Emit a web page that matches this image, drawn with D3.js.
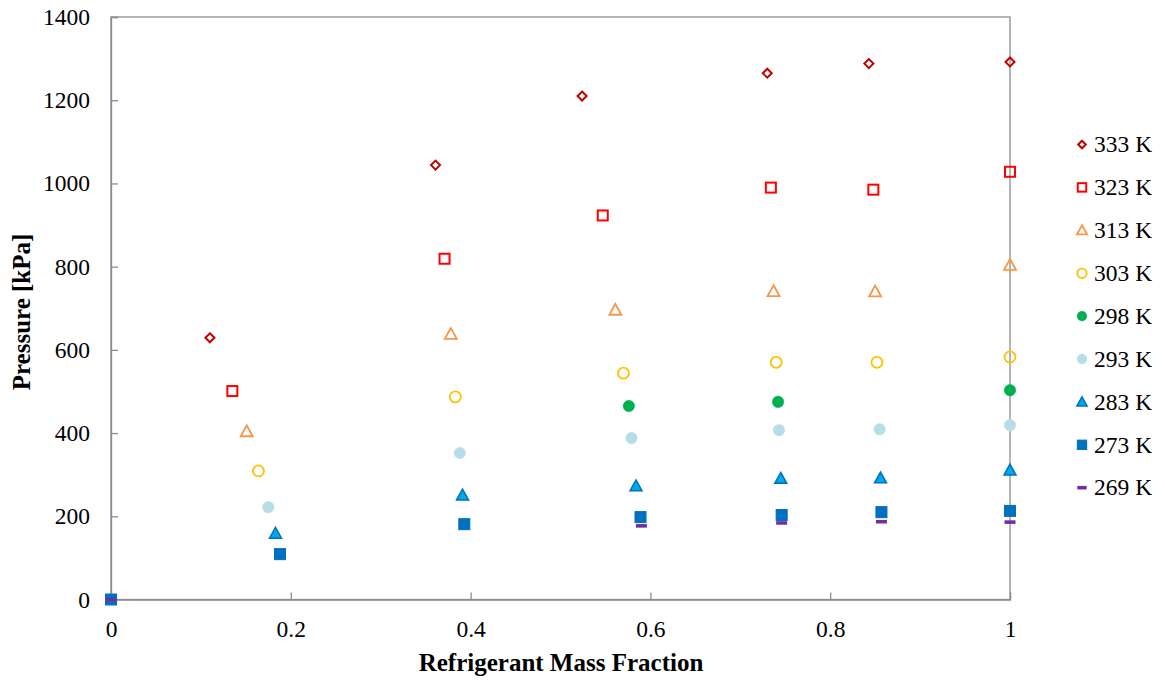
<!DOCTYPE html>
<html><head><meta charset="utf-8">
<script src="https://cdn.jsdelivr.net/npm/d3@7"></script>
<style>body{margin:0;background:#fff}svg{display:block}</style>
</head><body>
<svg id="c" width="1165" height="681"></svg>
<script>
const xTicks = [0, 0.2, 0.4, 0.6, 0.8, 1];
const xTickLabels = ["0", "0.2", "0.4", "0.6", "0.8", "1"];
const yTicks = [0, 200, 400, 600, 800, 1000, 1200, 1400];
const yTickLabels = ["0", "200", "400", "600", "800", "1000", "1200", "1400"];

const s333 = [[0.110,629],[0.361,1044],[0.524,1210],[0.730,1265],[0.843,1288],[1.0,1292]];
const s323 = [[0.135,501],[0.371,819],[0.547,923],[0.734,990],[0.848,985],[1.0,1028]];
const s313 = [[0.151,404],[0.378,638],[0.561,696],[0.737,741],[0.850,740],[1.0,804]];
const s303 = [[0.164,309],[0.383,487],[0.570,544],[0.740,570],[0.852,570],[1.0,583]];
const s298 = [[0.576,465],[0.742,475],[1.0,503]];
const s293 = [[0.175,222],[0.388,352],[0.579,388],[0.743,407],[0.855,409],[1.0,419]];
const s283 = [[0.183,159],[0.391,251],[0.584,273],[0.745,291],[0.856,292],[1.0,311]];
const s273 = [[0,0],[0.188,109],[0.393,181],[0.589,198],[0.746,203],[0.857,210],[1.0,213]];
const s269 = [[0,0],[0.590,177],[0.746,184],[0.857,187],[1.0,186]];

const seriesNames = ["333 K","323 K","313 K","303 K","298 K","293 K","283 K","273 K","269 K"];
const seriesData = [s333,s323,s313,s303,s298,s293,s283,s273,s269];
const styles = [
  {shape:"diamond", fill:"none", stroke:"#C00000", size:9, sw:2},
  {shape:"square", fill:"none", stroke:"#FF0000", size:10, sw:2},
  {shape:"triangle", fill:"none", stroke:"#F79646", size:12, sw:1.8},
  {shape:"circle", fill:"none", stroke:"#FFC000", size:11, sw:1.8},
  {shape:"circle", fill:"#00B050", stroke:"#00B050", size:11.5, sw:0.5},
  {shape:"circle", fill:"#B7DEE8", stroke:"#B7DEE8", size:11.5, sw:0.5},
  {shape:"triangle", fill:"#00A8EC", stroke:"#0070C0", size:12, sw:1.5},
  {shape:"square", fill:"#0070C0", stroke:"#0070C0", size:11, sw:1},
  {shape:"dash", fill:"#7030A0", stroke:"none", size:11, sw:0}
];

const FONT = "'Liberation Serif', 'Times New Roman', Times, serif";
const svg = d3.select("#c");
const L = 111, R = 1010, T = 17, B = 599.5;
const x = d3.scaleLinear().domain([0,1]).range([L,R]);
const y = d3.scaleLinear().domain([0,1400]).range([B,T]);
const axisColor = "#8c8c8c";

// frame
svg.append("rect").attr("x",L).attr("y",T).attr("width",R-L).attr("height",B-T)
  .attr("fill","none").attr("stroke",axisColor).attr("stroke-width",1.3);

const gx = svg.append("g").attr("transform",`translate(0,${B})`)
  .call(d3.axisBottom(x).tickValues(xTicks).tickSize(-7).tickFormat((d,i)=>xTickLabels[i]));
const gy = svg.append("g").attr("transform",`translate(${L},0)`)
  .call(d3.axisLeft(y).tickValues(yTicks).tickSize(-7).tickPadding(21).tickFormat((d,i)=>yTickLabels[i]));
[gx,gy].forEach(g=>{
  g.attr("font-family", FONT).attr("font-size", 23.5);
  g.select(".domain").attr("stroke",axisColor).attr("stroke-width",1.3);
  g.selectAll(".tick line").attr("stroke",axisColor).attr("stroke-width",1.3);
  g.selectAll(".tick text").attr("fill","#000");
});
gx.selectAll(".tick text").attr("y", 37).attr("dy", "0");

svg.append("text").attr("x",561).attr("y",671).attr("text-anchor","middle")
  .attr("font-family",FONT).attr("font-size",25).attr("font-weight","bold").text("Refrigerant Mass Fraction");
svg.append("text").attr("transform","translate(30,312) rotate(-90)").attr("text-anchor","middle")
  .attr("font-family",FONT).attr("font-size",25).attr("font-weight","bold").text("Pressure [kPa]");

function drawMarker(g, st, cx, cy){
  const s = st.size;
  let el;
  if (st.shape==="diamond"){
    const h = s/2;
    el = g.append("path").attr("d",`M${cx},${cy-h}L${cx+h},${cy}L${cx},${cy+h}L${cx-h},${cy}Z`);
  } else if (st.shape==="square"){
    el = g.append("rect").attr("x",cx-s/2).attr("y",cy-s/2).attr("width",s).attr("height",s);
  } else if (st.shape==="triangle"){
    const h = s*0.9;
    el = g.append("path").attr("d",`M${cx},${cy-h*0.55}L${cx+s/2},${cy+h*0.45}L${cx-s/2},${cy+h*0.45}Z`);
  } else if (st.shape==="circle"){
    el = g.append("circle").attr("cx",cx).attr("cy",cy).attr("r",s/2);
  } else {
    el = g.append("rect").attr("x",cx-s/2).attr("y",cy-1.8).attr("width",s).attr("height",3.6);
  }
  el.attr("fill",st.fill).attr("stroke",st.stroke).attr("stroke-width",st.sw);
}

const pts = svg.append("g");
seriesData.forEach((data,i)=>{
  const g = pts.append("g");
  data.forEach(d=>drawMarker(g, styles[i], x(d[0]), y(d[1])));
});

// legend
const lg = svg.append("g");
seriesNames.forEach((n,i)=>{
  const cy = 144.5 + i*42.9;
  const st = Object.assign({}, styles[i], {size: styles[i].size*0.85});
  drawMarker(lg, st, 1082, cy);
  lg.append("text").attr("x",1094).attr("y",cy).attr("dy","0.33em")
    .attr("font-family",FONT).attr("font-size",23.5).text(n);
});
</script>
</body></html>
